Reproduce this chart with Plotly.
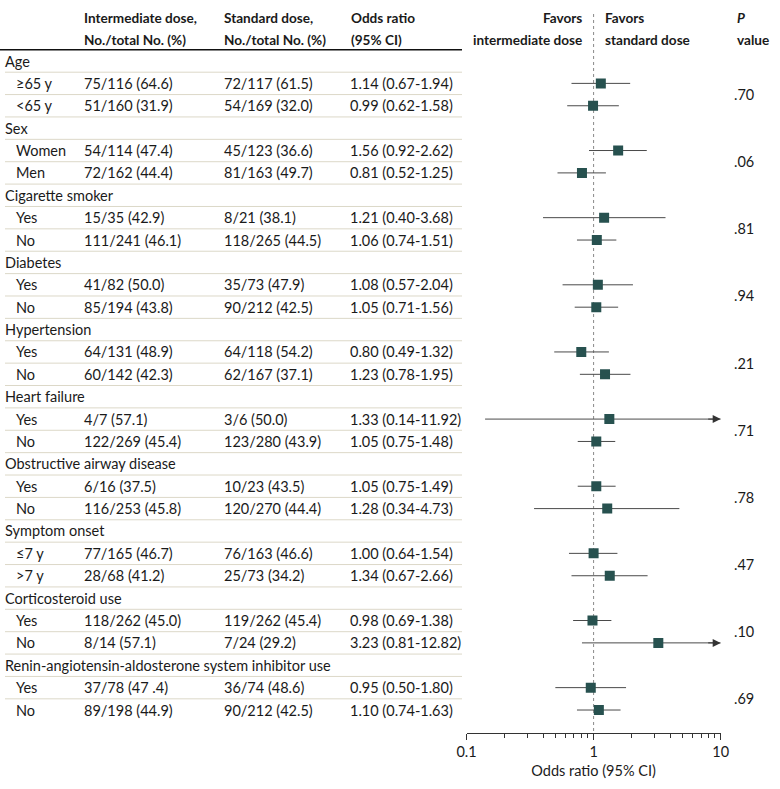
import math
import plotly.graph_objects as go

# ---------------- data ----------------
categories = ["Age", "Sex", "Cigarette smoker", "Diabetes", "Hypertension", "Heart failure",
              "Obstructive airway disease", "Symptom onset", "Corticosteroid use",
              "Renin-angiotensin-aldosterone system inhibitor use"]
sub_labels = ["≥65 y", "<65 y", "Women", "Men", "Yes", "No", "Yes", "No", "Yes", "No",
              "Yes", "No", "Yes", "No", "≤7 y", ">7 y", "Yes", "No", "Yes", "No"]
intermediate = ["75/116 (64.6)", "51/160 (31.9)", "54/114 (47.4)", "72/162 (44.4)",
                "15/35 (42.9)", "111/241 (46.1)", "41/82 (50.0)", "85/194 (43.8)",
                "64/131 (48.9)", "60/142 (42.3)", "4/7 (57.1)", "122/269 (45.4)",
                "6/16 (37.5)", "116/253 (45.8)", "77/165 (46.7)", "28/68 (41.2)",
                "118/262 (45.0)", "8/14 (57.1)", "37/78 (47 .4)", "89/198 (44.9)"]
standard = ["72/117 (61.5)", "54/169 (32.0)", "45/123 (36.6)", "81/163 (49.7)",
            "8/21 (38.1)", "118/265 (44.5)", "35/73 (47.9)", "90/212 (42.5)",
            "64/118 (54.2)", "62/167 (37.1)", "3/6 (50.0)", "123/280 (43.9)",
            "10/23 (43.5)", "120/270 (44.4)", "76/163 (46.6)", "25/73 (34.2)",
            "119/262 (45.4)", "7/24 (29.2)", "36/74 (48.6)", "90/212 (42.5)"]
odds_ratio = [1.14, 0.99, 1.56, 0.81, 1.21, 1.06, 1.08, 1.05, 0.80, 1.23,
              1.33, 1.05, 1.05, 1.28, 1.00, 1.34, 0.98, 3.23, 0.95, 1.10]
ci_low = [0.67, 0.62, 0.92, 0.52, 0.40, 0.74, 0.57, 0.71, 0.49, 0.78,
          0.14, 0.75, 0.75, 0.34, 0.64, 0.67, 0.69, 0.81, 0.50, 0.74]
ci_high = [1.94, 1.58, 2.62, 1.25, 3.68, 1.51, 2.04, 1.56, 1.32, 1.95,
           11.92, 1.48, 1.49, 4.73, 1.54, 2.66, 1.38, 12.82, 1.80, 1.63]
p_values = [".70", ".06", ".81", ".94", ".21", ".71", ".78", ".47", ".10", ".69"]
tick_vals = [0.1, 1, 10]
tick_text = ["0.1", "1", "10"]
minor_vals = [0.2, 0.3, 0.4, 0.5, 0.6, 0.7, 0.8, 0.9, 2, 3, 4, 5, 6, 7, 8, 9]

# ---------------- layout constants ----------------
W, H = 780, 789
FONT = "Lato"
FS = 14.5
HFS = 13.6
TXT = "#1a1a1a"
ROW0_PX, ROW_PX = 61.0, 22.38
AXIS_PX = 733.0
XMIN, XMAX = 0.1, 10


def px_to_row(py):
    return (py - ROW0_PX) / ROW_PX


# build row indices
cat_rows, sub_rows = [], []
r = 0
for k, c in enumerate(categories):
    cat_rows.append(r)
    sub_rows.extend([r + 1, r + 2])
    r += 3
n_rows = r

fig = go.Figure()

# CI lines
xs, ys = [], []
for lo, hi, yy in zip(ci_low, ci_high, sub_rows):
    xs += [lo, min(hi, XMAX), None]
    ys += [yy, yy, None]
fig.add_trace(go.Scatter(x=xs, y=ys, mode="lines", line=dict(color="#4a4a4a", width=1),
                         hoverinfo="skip", showlegend=False))
# markers
fig.add_trace(go.Scatter(x=odds_ratio, y=sub_rows, mode="markers",
                         marker=dict(symbol="square", size=10, color="#27514f",
                                     line=dict(width=0)),
                         showlegend=False))

annotations = []


def add_text(x_px, y_row, text, anchor="left", bold=False, size=FS, color=TXT):
    annotations.append(dict(x=x_px / W, xref="paper", y=y_row, yref="y", text=text,
                            showarrow=False, xanchor=anchor, yanchor="middle",
                            font=dict(family=FONT, size=size, color=color,
                                      weight=700 if bold else 400)))


# arrows for CIs beyond axis
for hi, yy in zip(ci_high, sub_rows):
    if hi > XMAX:
        annotations.append(dict(x=math.log10(XMAX), y=yy, xref="x", yref="y", text="",
                                showarrow=True, ax=-14, ay=0, arrowhead=2, arrowsize=1.6,
                                arrowwidth=1, arrowcolor="#333333", standoff=0))

# headers
h1, h2 = px_to_row(18), px_to_row(40)
add_text(82, h1, "Intermediate dose,", bold=True, size=HFS)
add_text(82, h2, "No./total No. (%)", bold=True, size=HFS)
add_text(222, h1, "Standard dose,", bold=True, size=HFS)
add_text(222, h2, "No./total No. (%)", bold=True, size=HFS)
add_text(349, h1, "Odds ratio", bold=True, size=HFS)
add_text(349, h2, "(95% CI)", bold=True, size=HFS)
add_text(584, h1, "Favors", anchor="right", bold=True, size=HFS)
add_text(584, h2, "intermediate dose", anchor="right", bold=True, size=HFS)
add_text(603, h1, "Favors", bold=True, size=HFS)
add_text(603, h2, "standard dose", bold=True, size=HFS)
add_text(735, h1, "<i>P</i>", bold=True, size=HFS)
add_text(735, h2, "value", bold=True, size=HFS)

# table body
for c, yy in zip(categories, cat_rows):
    add_text(3, yy, c)
for i, yy in enumerate(sub_rows):
    add_text(14, yy, sub_labels[i])
    add_text(82, yy, intermediate[i])
    add_text(222, yy, standard[i])
    add_text(348, yy, f"{odds_ratio[i]:.2f} ({ci_low[i]:.2f}-{ci_high[i]:.2f})")
for k, p in enumerate(p_values):
    add_text(732, cat_rows[k] + 1.5, p)

shapes = []
# header rule
shapes.append(dict(type="line", xref="paper", yref="y", x0=0, x1=462 / W,
                   y0=-0.5, y1=-0.5, line=dict(color="#111111", width=1.5)))
# row separators
for rr in range(n_rows - 1):
    shapes.append(dict(type="line", xref="paper", yref="y", x0=5 / W, x1=462 / W,
                       y0=rr + 0.5, y1=rr + 0.5, line=dict(color="#dcd8c8", width=1)))
# reference line at OR = 1
shapes.append(dict(type="line", xref="x", yref="y", x0=1, x1=1,
                   y0=px_to_row(14), y1=px_to_row(AXIS_PX),
                   line=dict(color="#888888", width=1, dash="dot"), layer="below"))

fig.update_layout(
    width=W, height=H,
    margin=dict(l=0, r=0, t=0, b=H - AXIS_PX, autoexpand=False),
    paper_bgcolor="white", plot_bgcolor="white",
    font=dict(family=FONT, size=FS, color=TXT),
    annotations=annotations, shapes=shapes,
    xaxis=dict(type="log", range=[math.log10(XMIN), math.log10(XMAX)],
               domain=[466.5 / W, 720.7 / W],
               tickvals=tick_vals, ticktext=tick_text,
               ticks="outside", ticklen=6, tickcolor="#333333", tickwidth=1,
               showline=True, linecolor="#333333", linewidth=1,
               showgrid=False, zeroline=False,
               minor=dict(tickvals=minor_vals, ticks="outside", ticklen=4,
                          tickcolor="#333333", tickwidth=1, showgrid=False),
               tickfont=dict(family=FONT, size=FS, color=TXT),
               title=dict(text="Odds ratio (95% CI)", standoff=6,
                          font=dict(family=FONT, size=FS, color=TXT))),
    yaxis=dict(range=[px_to_row(AXIS_PX), px_to_row(0)], visible=False,
               showgrid=False, zeroline=False),
)

fig.write_html("out.html", config={"displayModeBar": False},
               post_script="document.body.style.margin='0';document.body.style.overflow='hidden';")
